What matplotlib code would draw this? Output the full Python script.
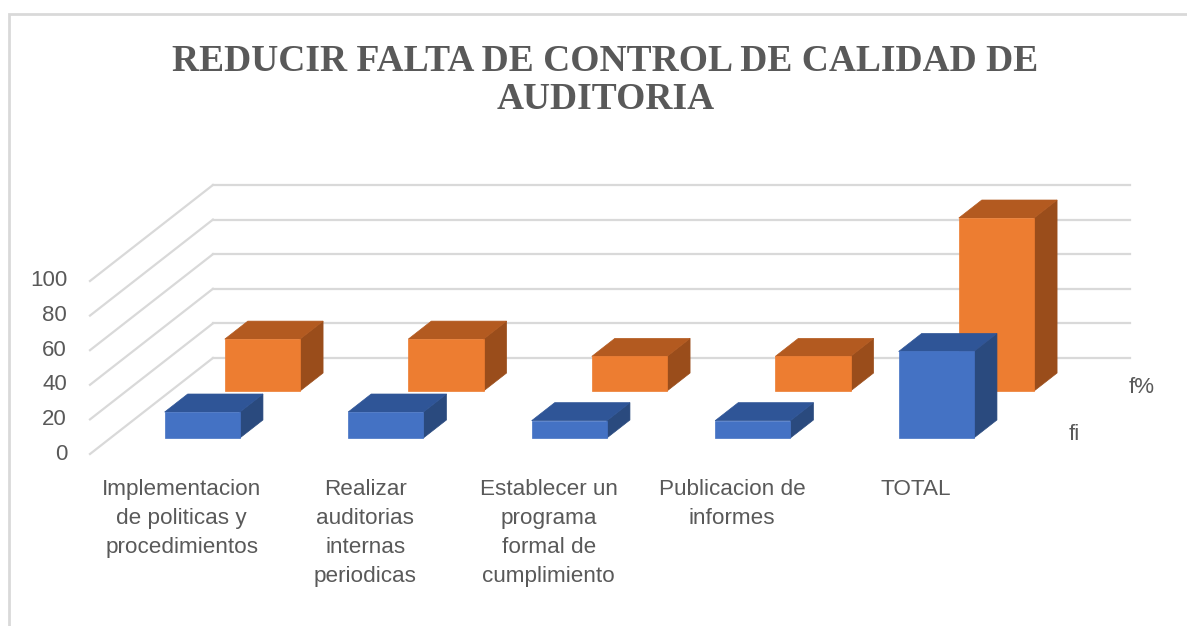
import matplotlib
matplotlib.use('Agg')
import matplotlib.pyplot as plt
from matplotlib.patches import Polygon, Rectangle

categories = ['Implementacion\nde politicas y\nprocedimientos',
              'Realizar\nauditorias\ninternas\nperiodicas',
              'Establecer un\nprograma\nformal de\ncumplimiento',
              'Publicacion de\ninformes',
              'TOTAL']
fi = [15, 15, 10, 10, 50]
fp = [30, 30, 20, 20, 100]
series_names = ['fi', 'f%']
yticks = [0, 20, 40, 60, 80, 100]

title = 'REDUCIR FALTA DE CONTROL DE CALIDAD DE\nAUDITORIA'

# oblique projection: one full depth unit shifts right/up by DX (categories) / DV (values)
DX, DV = 0.67, 55.5
BAR_W = 0.41
ROW_T0 = [0.167, 0.656]
ROW_D = 0.1875

blue = ('#4472C4', '#2F5597', '#2A4A7E')
orange = ('#ED7D31', '#B35A20', '#9A4D1B')
grid_c = '#D9D9D9'
text_c = '#595959'
label_font = ['Liberation Sans Narrow', 'Liberation Sans', 'DejaVu Sans']

fig = plt.figure(figsize=(11.87, 6.26), dpi=100)
ax = fig.add_axes([0, 0, 1, 1])
ax.set_xlim(-90 / 183.5, (1187 - 90) / 183.5)
ax.set_ylim((454 - 626) / 1.73, 454 / 1.73)
ax.axis('off')

# chart border
fig.patches.append(Rectangle((9 / 1187, -0.01), 1.0, 1 - 14 / 626 + 0.01,
                             transform=fig.transFigure, fill=False,
                             edgecolor=grid_c, lw=2))

n = len(categories)
# back wall and side wall gridlines
for v in yticks:
    ax.plot([DX, n + DX], [v + DV, v + DV], color=grid_c, lw=1.6, zorder=1)
    ax.plot([0, DX], [v, v + DV], color=grid_c, lw=1.6, zorder=1)


def draw_bar(x0, t0, h, cols):
    d = ROW_D
    fx, fy = x0 + t0 * DX, t0 * DV
    bx, by = d * DX, d * DV
    front = Polygon([(fx, fy), (fx + BAR_W, fy), (fx + BAR_W, fy + h), (fx, fy + h)],
                    closed=True, facecolor=cols[0], edgecolor=cols[0], lw=0.5, zorder=3)
    top = Polygon([(fx, fy + h), (fx + BAR_W, fy + h), (fx + BAR_W + bx, fy + h + by),
                   (fx + bx, fy + h + by)],
                  closed=True, facecolor=cols[1], edgecolor=cols[1], lw=0.5, zorder=3)
    side = Polygon([(fx + BAR_W, fy), (fx + BAR_W + bx, fy + by),
                    (fx + BAR_W + bx, fy + by + h), (fx + BAR_W, fy + h)],
                   closed=True, facecolor=cols[2], edgecolor=cols[2], lw=0.5, zorder=3)
    for p in (side, top, front):
        ax.add_patch(p)


# back row first, then front row
for row, vals, cols in [(1, fp, orange), (0, fi, blue)]:
    for i, v in enumerate(vals):
        draw_bar(i + (1 - BAR_W) / 2, ROW_T0[row], v, cols)

# value axis labels
for v in yticks:
    ax.text(-23 / 183.5, v, str(v), ha='right', va='center', fontsize=16,
            color=text_c, family=label_font)

# category labels
for i, c in enumerate(categories):
    ax.text(i + 0.5, -14.5, c, ha='center', va='top', fontsize=16.2,
            color=text_c, family=label_font, linespacing=1.5)

# depth axis labels
for row, name in enumerate(series_names):
    t = ROW_T0[row] + ROW_D / 2
    ax.text(n + t * DX + 0.16, t * DV - 3, name, ha='left', va='center',
            fontsize=16, color=text_c, family=label_font)

fig.text(0.51, 0.872, title, ha='center', va='center', fontsize=27,
         fontweight='bold', family=['Liberation Serif', 'DejaVu Serif'],
         color=text_c, linespacing=1.12)

fig.savefig('out.png', dpi=100)
